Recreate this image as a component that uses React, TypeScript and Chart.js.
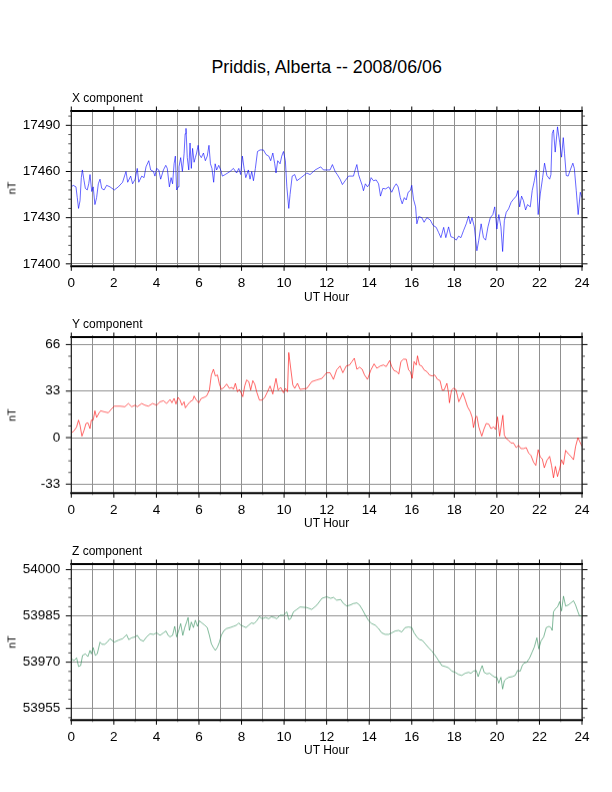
import { useEffect, useRef } from "react";
import { Chart, registerables } from "chart.js";

Chart.register(...registerables);

const FONT = '"Liberation Sans", Arial, Helvetica, sans-serif';

const chartTitle = "Priddis, Alberta -- 2008/06/06";
const hourTicks = [0, 1, 2, 3, 4, 5, 6, 7, 8, 9, 10, 11, 12, 13, 14, 15, 16, 17, 18, 19, 20, 21, 22, 23, 24];

// X component (nT)
const hoursX = [
  0, 0.09, 0.22, 0.28, 0.34, 0.41, 0.47, 0.52, 0.6, 0.66, 0.75, 0.82, 0.88, 0.96, 1.03, 1.11, 1.19, 1.27, 1.35, 1.43,
  1.54, 1.66, 1.82, 2.02, 2.21, 2.41, 2.57, 2.65, 2.79, 2.88, 3.0, 3.1, 3.17, 3.31, 3.42, 3.51, 3.64, 3.73, 3.86, 3.93,
  4.01, 4.11, 4.2, 4.33, 4.44, 4.51, 4.61, 4.69, 4.76, 4.83, 4.89, 4.95, 5.02, 5.06, 5.14, 5.22, 5.3, 5.35, 5.39, 5.45,
  5.52, 5.58, 5.64, 5.7, 5.77, 5.83, 5.89, 5.96, 6.02, 6.11, 6.21, 6.3, 6.39, 6.47, 6.54, 6.61, 6.69, 6.76, 6.83, 6.93,
  7.02, 7.1, 7.23, 7.46, 7.62, 7.77, 7.87, 7.96, 8.04, 8.12, 8.2, 8.32, 8.4, 8.48, 8.56, 8.65, 8.75, 8.87, 9.03, 9.15,
  9.28, 9.37, 9.47, 9.56, 9.62, 9.7, 9.81, 9.89, 9.97, 10.06, 10.13, 10.22, 10.28, 10.38, 10.5, 10.6, 10.75, 11.07, 11.22, 11.46,
  11.72, 11.85, 12.16, 12.27, 12.4, 12.5, 12.63, 12.74, 12.87, 13.03, 13.26, 13.34, 13.42, 13.5, 13.57, 13.67, 13.73, 13.82, 13.92, 14.01,
  14.09, 14.2, 14.33, 14.44, 14.53, 14.64, 14.77, 14.92, 15.06, 15.17, 15.27, 15.36, 15.46, 15.55, 15.65, 15.74, 15.83, 15.93, 16.0, 16.08,
  16.18, 16.24, 16.33, 16.47, 16.58, 16.71, 16.87, 17.0, 17.15, 17.26, 17.37, 17.5, 17.6, 17.73, 17.84, 17.96, 18.09, 18.2, 18.31, 18.43,
  18.56, 18.67, 18.75, 18.83, 18.94, 19.06, 19.15, 19.26, 19.37, 19.47, 19.58, 19.69, 19.81, 19.9, 20.0, 20.09, 20.19, 20.27, 20.35, 20.44,
  20.55, 20.67, 20.78, 20.91, 20.99, 21.07, 21.16, 21.25, 21.35, 21.44, 21.57, 21.66, 21.76, 21.85, 21.94, 22.04, 22.15, 22.24, 22.35, 22.48,
  22.54, 22.6, 22.66, 22.74, 22.85, 22.95, 23.04, 23.12, 23.18, 23.26, 23.35, 23.45, 23.57, 23.64, 23.73, 23.82, 23.92, 24,
];
const valuesX = [
  17450, 17451, 17450, 17443, 17436, 17441, 17456, 17461, 17454, 17449, 17448, 17452, 17458, 17447, 17450, 17438.5, 17443, 17452, 17455, 17449,
  17448, 17451, 17450, 17448, 17450, 17453, 17460, 17453, 17457, 17452, 17455, 17462, 17453, 17457, 17456, 17463, 17467, 17461, 17460, 17457,
  17462, 17461, 17455, 17461, 17464, 17462, 17450, 17456, 17452, 17465, 17470, 17448, 17450, 17463, 17469, 17460, 17471.5, 17484.5, 17488, 17469,
  17461, 17478.5, 17462, 17475, 17466, 17469, 17472, 17477, 17471, 17469, 17472, 17467, 17470, 17477, 17465, 17462, 17453, 17465, 17461, 17464,
  17461, 17457, 17458, 17460, 17462, 17459, 17462, 17458, 17470, 17462, 17456, 17461, 17455, 17460, 17454, 17462, 17473, 17474, 17474, 17471,
  17470, 17467, 17472, 17465, 17459, 17467, 17465, 17470, 17473, 17467, 17450, 17436, 17445, 17457, 17458, 17454, 17455.5, 17459, 17458, 17461,
  17463, 17461, 17461, 17464.5, 17460, 17458, 17455, 17451.5, 17454, 17457, 17457, 17461, 17464.5, 17458, 17455, 17451, 17447.5, 17452, 17450, 17452,
  17456, 17454, 17454.5, 17452, 17444, 17449, 17448.7, 17450, 17446.5, 17450, 17452, 17450, 17443, 17439, 17443, 17441.5, 17446.5, 17447.6, 17451, 17442,
  17437, 17426, 17430.7, 17430, 17427, 17430, 17428.5, 17425, 17423.7, 17420.4, 17417, 17423.7, 17417, 17424, 17417.6, 17417, 17415.4, 17418, 17417, 17421.5,
  17426, 17431, 17426, 17430, 17424, 17408.5, 17415.4, 17426, 17417, 17415.4, 17424, 17430, 17432, 17437, 17422.6, 17432, 17424, 17408, 17428, 17433.5,
  17435.7, 17440, 17442, 17444, 17447.6, 17437, 17444, 17441, 17435, 17438.5, 17437, 17447.6, 17454, 17461, 17432, 17445.4, 17456, 17465.4, 17457.4, 17455,
  17458, 17484.6, 17487, 17472.6, 17489, 17479, 17469.3, 17482, 17471.5, 17457.4, 17457, 17461, 17465.4, 17462, 17447.6, 17432, 17446.5, 17443,
];
const ticksX = [17400, 17430, 17460, 17490];

// Y component (nT)
const hoursY = [
  0, 0.13, 0.25, 0.34, 0.41, 0.5, 0.6, 0.69, 0.78, 0.88, 0.94, 1.03, 1.11, 1.19, 1.29, 1.38, 1.54, 1.74, 1.87, 2.02,
  2.29, 2.52, 2.68, 2.84, 3.0, 3.1, 3.31, 3.46, 3.62, 3.82, 4.01, 4.17, 4.33, 4.48, 4.64, 4.73, 4.83, 4.92, 5.02, 5.11,
  5.2, 5.3, 5.36, 5.45, 5.58, 5.71, 5.77, 5.86, 5.99, 6.11, 6.24, 6.36, 6.49, 6.58, 6.68, 6.77, 6.87, 6.96, 7.05, 7.18,
  7.3, 7.43, 7.55, 7.62, 7.71, 7.81, 7.9, 7.99, 8.06, 8.15, 8.24, 8.34, 8.43, 8.53, 8.62, 8.71, 8.84, 8.97, 9.09, 9.22,
  9.34, 9.47, 9.53, 9.62, 9.72, 9.84, 9.97, 10.06, 10.16, 10.22, 10.31, 10.41, 10.5, 10.63, 10.75, 11.07, 11.3, 11.54, 11.78, 12.0,
  12.16, 12.32, 12.47, 12.63, 12.76, 12.92, 13.08, 13.19, 13.3, 13.42, 13.55, 13.67, 13.78, 13.92, 14.08, 14.23, 14.36, 14.52, 14.67, 14.8,
  14.96, 15.06, 15.17, 15.3, 15.39, 15.49, 15.61, 15.74, 15.85, 15.93, 16.02, 16.11, 16.21, 16.27, 16.36, 16.47, 16.58, 16.71, 16.83, 16.96,
  17.08, 17.21, 17.33, 17.43, 17.52, 17.65, 17.73, 17.77, 17.87, 17.96, 18.07, 18.15, 18.21, 18.31, 18.4, 18.51, 18.62, 18.75, 18.84, 18.9,
  19.0, 19.06, 19.15, 19.29, 19.4, 19.5, 19.62, 19.72, 19.85, 19.94, 20.03, 20.13, 20.22, 20.28, 20.35, 20.44, 20.55, 20.66, 20.78, 20.91,
  21.02, 21.13, 21.25, 21.38, 21.49, 21.6, 21.72, 21.83, 21.94, 22.04, 22.13, 22.23, 22.35, 22.48, 22.57, 22.66, 22.75, 22.85, 22.95, 23.04,
  23.13, 23.23, 23.35, 23.48, 23.6, 23.7, 23.81, 23.88, 24,
];
const valuesY = [
  3.3, 4.8, 7.6, 12.4, 8.8, 1, 5.2, 10, 10.5, 6.4, 12.4, 12.4, 19, 14.3, 17.1, 19, 18.3, 17.6, 20, 22.3,
  22.3, 21.9, 24.2, 21.9, 23, 21.9, 24.2, 23, 22.3, 24.2, 23, 25.4, 26.1, 24.2, 27, 24.7, 27.8, 23.8, 28.5, 26.6,
  23, 25.4, 21.1, 23, 25.4, 26.6, 29.5, 27, 24.7, 27.8, 28.5, 29.5, 33.7, 44.4, 48.5, 43.7, 44.4, 38, 34.2, 35.6,
  38, 34.9, 35.6, 34.2, 38.5, 32.5, 34.2, 31.4, 29, 36.6, 40.9, 39.7, 33.7, 40.4, 38, 32.5, 26.6, 26.6, 28.5, 32.5,
  36.6, 30.9, 35.6, 42, 33.7, 35.6, 31.8, 34.9, 32.5, 60.3, 49.2, 37.3, 34.9, 38.5, 34.2, 34.9, 39.7, 40.9, 42, 46,
  46, 41.3, 48, 50.8, 46, 50.8, 51.5, 53.9, 56.3, 48.5, 49.9, 48.5, 44.4, 41.3, 48, 52.3, 49.2, 50.8, 51.5, 50.4,
  54.6, 50.4, 47.5, 46.8, 45.1, 53.9, 55.6, 55.6, 48, 46.8, 42, 53.9, 51.5, 58, 51.5, 50.8, 48, 46.8, 44.4, 43.7,
  44.4, 41.3, 40.4, 33.7, 33.7, 38.5, 31.4, 24.7, 33.7, 34.9, 34.2, 29.5, 25.4, 28.5, 31.8, 27, 21.9, 18.3, 14.3, 7.1,
  14.3, 15.2, 7.6, 1, 6.4, 10, 9.5, 6.4, 7.6, 5.7, 14.7, 1, 10, 15.9, 1.7, -0.7, -1.9, -3.8, -3.8, -7.1,
  -5.5, -7.8, -7.8, -7.1, -10.9, -12.6, -17.3, -19.7, -8.6, -13.8, -15, -21.4, -16.2, -13.3, -19.7, -28.5, -20.4, -27.6, -22.1, -15.7,
  -19, -9, -11.4, -13.3, -15.7, -6.2, 0, -2.4, -6.2,
];
const ticksY = [-33, 0, 33, 66];

// Z component (nT)
const hoursZ = [
  0, 0.13, 0.25, 0.34, 0.44, 0.53, 0.66, 0.78, 0.88, 0.94, 1.03, 1.13, 1.22, 1.35, 1.44, 1.57, 1.69, 1.82, 2.02, 2.21,
  2.41, 2.6, 2.7, 2.84, 3.0, 3.1, 3.23, 3.39, 3.54, 3.7, 3.86, 4.01, 4.17, 4.33, 4.45, 4.55, 4.64, 4.76, 4.86, 4.95,
  5.05, 5.14, 5.24, 5.33, 5.42, 5.49, 5.55, 5.64, 5.74, 5.83, 5.93, 6.02, 6.14, 6.27, 6.39, 6.49, 6.58, 6.68, 6.77, 6.87,
  6.96, 7.05, 7.18, 7.3, 7.46, 7.62, 7.77, 7.87, 7.96, 8.09, 8.21, 8.34, 8.46, 8.59, 8.71, 8.84, 8.97, 9.13, 9.28, 9.4,
  9.53, 9.66, 9.81, 9.97, 10.13, 10.22, 10.31, 10.44, 10.6, 10.75, 11.07, 11.3, 11.54, 11.78, 12.0, 12.19, 12.32, 12.47, 12.66, 12.79,
  12.95, 13.1, 13.26, 13.42, 13.55, 13.7, 13.82, 13.98, 14.12, 14.28, 14.44, 14.59, 14.75, 14.91, 15.06, 15.22, 15.38, 15.53, 15.69, 15.85,
  16.0, 16.11, 16.24, 16.36, 16.49, 16.63, 16.79, 16.94, 17.1, 17.26, 17.41, 17.57, 17.73, 17.88, 18.04, 18.2, 18.35, 18.51, 18.67, 18.78,
  18.9, 19.03, 19.12, 19.22, 19.31, 19.4, 19.53, 19.66, 19.78, 19.91, 20.0, 20.09, 20.19, 20.27, 20.35, 20.44, 20.56, 20.72, 20.86, 20.97,
  21.1, 21.19, 21.28, 21.41, 21.54, 21.66, 21.76, 21.88, 21.97, 22.07, 22.2, 22.32, 22.45, 22.54, 22.6, 22.66, 22.76, 22.85, 22.95, 23.04,
  23.13, 23.23, 23.35, 23.48, 23.6, 23.7, 23.81, 23.88, 24,
];
const valuesZ = [
  53971.1, 53970.5, 53971.4, 53968.6, 53968.9, 53972.2, 53972.7, 53971.8, 53973.8, 53972.7, 53974.7, 53972.2, 53972.7, 53976.5, 53975.8, 53975.8, 53976.5, 53977.6, 53976.5, 53977.1,
  53977.6, 53978.9, 53977.3, 53977.9, 53978.2, 53978.7, 53977.3, 53976.8, 53978.2, 53979.2, 53979, 53979.5, 53978.7, 53979.5, 53980.1, 53978.7, 53978.2, 53978.7, 53981.6, 53978.2,
  53980.3, 53982.5, 53978.7, 53981.2, 53983, 53984.5, 53980.3, 53983, 53981.2, 53983.6, 53981.6, 53983.4, 53982.7, 53982, 53981.2, 53978.7, 53976, 53974.7, 53973.8, 53974.9,
  53976.5, 53978.7, 53980.3, 53980.9, 53981.2, 53981.6, 53982, 53982.7, 53982, 53981.6, 53981.2, 53982, 53982.7, 53982.5, 53983.4, 53984.7, 53984.1, 53984.5, 53984.1, 53984.7,
  53984.5, 53984.1, 53985.2, 53985.2, 53986.3, 53983.8, 53984.1, 53986.3, 53987.1, 53987.9, 53987.7, 53987.1, 53988.5, 53990.7, 53991.2, 53990.7, 53991, 53990.1, 53990.3, 53989,
  53988.2, 53988.5, 53989, 53989.2, 53988.5, 53986.8, 53985.2, 53983.4, 53982.5, 53982, 53980.9, 53979.5, 53979, 53979, 53979.5, 53980.1, 53980.3, 53979.8, 53981.2, 53981.4,
  53981.2, 53979.5, 53978.2, 53977.3, 53977.1, 53976, 53974.7, 53973.6, 53972.2, 53970.5, 53968.9, 53968.6, 53968.2, 53967.1, 53966.7, 53966, 53965.7, 53966.4, 53966.7, 53966.4,
  53967.1, 53967.3, 53965.3, 53967.3, 53968.9, 53966.7, 53966.2, 53966.4, 53965.7, 53965.1, 53965.1, 53963.2, 53965.1, 53961.3, 53964, 53964.6, 53965.1, 53965.3, 53965.7, 53967.3,
  53967.1, 53968.9, 53969.7, 53970, 53971.4, 53973.3, 53974.9, 53977.9, 53974.3, 53976.8, 53978.2, 53981.2, 53981.6, 53981.2, 53980.3, 53986.3, 53987.4, 53987.9, 53989.6, 53986.6,
  53991.4, 53988.2, 53988.5, 53989.2, 53989.9, 53988.5, 53986.3, 53985, 53985,
];
const ticksZ = [53955, 53970, 53985, 54000];

type PanelProps = {
  label: string;
  top: number;
  hours: number[];
  values: number[];
  yTicks: number[];
  yMin: number;
  yMax: number;
  minorStep: number;
  color: string;
};

const PLOT_LEFT = 71.3;
const PLOT_RIGHT = 582;
const PLOT_H = 155.3;
const PAD_TOP = 8;
const PAD_BOTTOM = 30;

const framePlugin = {
  id: "frameTicks",
  afterDraw(chart: any, _args: any, opts: any) {
    const { ctx, chartArea: a, scales } = chart;
    const xs = scales.x;
    const ys = scales.y;
    const seg = (x1: number, y1: number, x2: number, y2: number) => {
      ctx.beginPath();
      ctx.moveTo(x1, y1);
      ctx.lineTo(x2, y2);
      ctx.stroke();
    };
    ctx.save();
    ctx.lineWidth = 1;
    for (const h of hourTicks) {
      const px = xs.getPixelForValue(h);
      const major = h % 2 === 0;
      const len = major ? 4.5 : 2;
      ctx.strokeStyle = major ? "#000" : "#999";
      seg(px, a.top, px, a.top - len);
      seg(px, a.bottom, px, a.bottom + len);
    }
    const step = opts.minorStep as number;
    const majors = opts.yTicks as number[];
    const first = majors[0];
    const bigStep = majors[1] - majors[0];
    for (let v = first - step * Math.floor((first - ys.min) / step); v <= ys.max + 1e-6; v += step) {
      if (v < ys.min - 1e-6) continue;
      const py = ys.getPixelForValue(v);
      const k = (v - first) / bigStep;
      const major = Math.abs(k - Math.round(k)) < 1e-6;
      const len = major ? 5.5 : 3;
      ctx.strokeStyle = major ? "#000" : "#555";
      seg(a.left, py, a.left - len, py);
      seg(a.right, py, a.right + len, py);
    }
    ctx.strokeStyle = "#000";
    ctx.lineWidth = 2;
    seg(a.left - 1, a.top, a.right + 1, a.top);
    seg(a.left - 1, a.bottom, a.right + 1, a.bottom);
    ctx.lineWidth = 1.2;
    ctx.strokeStyle = "#222";
    seg(a.left, a.top, a.left, a.bottom);
    seg(a.right, a.top, a.right, a.bottom);
    ctx.restore();
  },
};

function Panel({ label, top, hours, values, yTicks, yMin, yMax, minorStep, color }: PanelProps) {
  const canvasRef = useRef<HTMLCanvasElement | null>(null);

  useEffect(() => {
    const ctx = canvasRef.current?.getContext("2d");
    if (!ctx) return;
    const chart = new Chart(ctx, {
      type: "line",
      data: {
        datasets: [
          {
            data: hours.map((h, i) => ({ x: h, y: values[i] })),
            borderColor: color,
            borderWidth: 0.6,
            pointRadius: 0,
            tension: 0,
            fill: false,
          },
        ],
      },
      options: {
        responsive: true,
        maintainAspectRatio: false,
        animation: false,
        layout: { padding: { top: PAD_TOP, right: 612 - PLOT_RIGHT, bottom: 0, left: 0 } },
        plugins: {
          legend: { display: false },
          tooltip: { enabled: false },
          frameTicks: { minorStep, yTicks },
        } as any,
        scales: {
          x: {
            type: "linear",
            min: 0,
            max: 24,
            border: { display: false },
            grid: { color: "#909090", lineWidth: 1, drawTicks: false },
            ticks: {
              autoSkip: false,
              maxRotation: 0,
              padding: 8.5,
              color: "#000",
              font: { family: FONT, size: 13.5 },
              callback: (v: any) => (Number(v) % 2 === 0 ? String(v) : ""),
            },
            afterBuildTicks: (s: any) => {
              s.ticks = hourTicks.map((v) => ({ value: v }));
            },
            afterFit: (s: any) => {
              s.height = PAD_BOTTOM;
              s.paddingLeft = 0;
              s.paddingRight = 0;
            },
          },
          y: {
            type: "linear",
            min: yMin,
            max: yMax,
            border: { display: false },
            grid: { color: "#909090", lineWidth: 1, drawTicks: false },
            ticks: {
              padding: 11,
              color: "#000",
              font: { family: FONT, size: 13.5 },
              callback: (v: any) => String(v),
            },
            afterBuildTicks: (s: any) => {
              s.ticks = yTicks.map((v) => ({ value: v }));
            },
            afterFit: (s: any) => {
              s.width = PLOT_LEFT;
              s.paddingTop = 0;
              s.paddingBottom = 0;
            },
          },
        },
      },
      plugins: [framePlugin],
    });
    return () => chart.destroy();
  }, [hours, values, yTicks, yMin, yMax, minorStep, color]);

  const centerY = top + PLOT_H / 2;
  return (
    <>
      <div
        style={{
          position: "absolute",
          left: 0,
          top: top - PAD_TOP,
          width: 612,
          height: PLOT_H + PAD_TOP + PAD_BOTTOM,
        }}
      >
        <canvas ref={canvasRef}></canvas>
      </div>
      <div style={{ position: "absolute", left: 72, top: top - 19.2, fontSize: 12, lineHeight: "12px", whiteSpace: "nowrap" }}>
        {label}
      </div>
      <div
        style={{
          position: "absolute",
          left: 11.8,
          top: centerY,
          fontSize: 11,
          lineHeight: "11px",
          whiteSpace: "nowrap",
          transform: "translate(-50%, -50%) rotate(-90deg)",
        }}
      >
        nT
      </div>
      <div
        style={{
          position: "absolute",
          left: PLOT_LEFT,
          width: PLOT_RIGHT - PLOT_LEFT,
          top: top + PLOT_H + 24.8,
          fontSize: 12,
          lineHeight: "12px",
          textAlign: "center",
          whiteSpace: "nowrap",
        }}
      >
        UT Hour
      </div>
    </>
  );
}

export default function App() {
  return (
    <div
      style={{
        position: "absolute",
        left: 0,
        top: 0,
        width: 612,
        height: 792,
        background: "#fff",
        fontFamily: FONT,
        color: "#000",
      }}
    >
      <div
        style={{
          position: "absolute",
          left: PLOT_LEFT,
          width: PLOT_RIGHT - PLOT_LEFT,
          top: 58.9,
          fontSize: 17.8,
          lineHeight: "17.8px",
          textAlign: "center",
          whiteSpace: "nowrap",
        }}
      >
        {chartTitle}
      </div>
      <Panel label="X component" top={110.7} hours={hoursX} values={valuesX} yTicks={ticksX} yMin={17398.4} yMax={17499.3} minorStep={6} color="#0000ff" />
      <Panel label="Y component" top={337.3} hours={hoursY} values={valuesY} yTicks={ticksY} yMin={-39.4} yMax={71.3} minorStep={8.25} color="#ff0000" />
      <Panel label="Z component" top={564.3} hours={hoursZ} values={valuesZ} yTicks={ticksZ} yMin={53951.2} yMax={54001.8} minorStep={3} color="#2e8b57" />
    </div>
  );
}
